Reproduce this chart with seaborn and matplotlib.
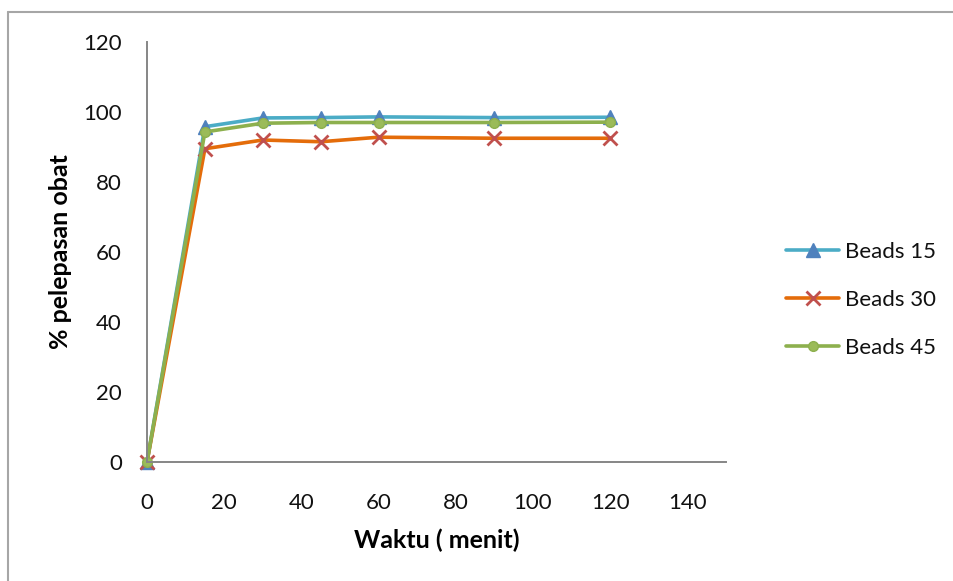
import matplotlib
matplotlib.use("Agg")
import matplotlib.pyplot as plt
from matplotlib.lines import Line2D
import seaborn as sns
import pandas as pd

# Drug release profile of beads over time
waktu = [0, 15, 30, 45, 60, 90, 120]
beads_15 = [0, 95.8, 98.3, 98.4, 98.6, 98.4, 98.5]
beads_30 = [0, 89.5, 92.0, 91.5, 92.8, 92.5, 92.5]
beads_45 = [0, 94.3, 96.8, 97.0, 97.0, 97.0, 97.1]
series_names = ["Beads 15", "Beads 30", "Beads 45"]
x_ticks = [0, 20, 40, 60, 80, 100, 120, 140]
y_ticks = [0, 20, 40, 60, 80, 100, 120]

df = pd.DataFrame({
    "Waktu": waktu * 3,
    "Rilis": beads_15 + beads_30 + beads_45,
    "Seri": [n for n in series_names for _ in waktu],
})

sns.set_theme(style="white")
plt.rcParams["font.family"] = ["Lato", "DejaVu Sans"]

line_colors = {"Beads 15": "#4BACC6", "Beads 30": "#E46C0A", "Beads 45": "#8DB04E"}
marker_styles = {
    "Beads 15": dict(marker="^", markersize=10, mfc="#4F81BD", mec="#4F81BD", mew=1),
    "Beads 30": dict(marker="x", markersize=10, mfc="#C0504D", mec="#C0504D", mew=2),
    "Beads 45": dict(marker="o", markersize=7, mfc="#9BBB59", mec="#8DB04E", mew=1),
}

fig = plt.figure(figsize=(9.54, 5.81), dpi=100)
ax = fig.add_axes([147 / 954, 1 - 462 / 581, (726 - 147) / 954, 420 / 581])

for name in series_names:
    sub = df[df["Seri"] == name]
    sns.lineplot(data=sub, x="Waktu", y="Rilis", ax=ax, color=line_colors[name],
                 linewidth=2.6, legend=False, errorbar=None)
    ln = ax.lines[-1]
    st = marker_styles[name]
    ln.set_marker(st["marker"])
    ln.set_markersize(st["markersize"])
    ln.set_markerfacecolor(st["mfc"])
    ln.set_markeredgecolor(st["mec"])
    ln.set_markeredgewidth(st["mew"])
    ln.set_clip_on(False)

ax.set_xlim(0, 150)
ax.set_ylim(0, 120)
ax.set_xticks(x_ticks)
ax.set_yticks(y_ticks)
ax.tick_params(axis="both", length=0, labelsize=16, colors="#111111")
ax.tick_params(axis="y", pad=18)
ax.tick_params(axis="x", pad=22)

for side in ["top", "right"]:
    ax.spines[side].set_visible(False)
for side in ["left", "bottom"]:
    ax.spines[side].set_color("#868686")
    ax.spines[side].set_linewidth(1.4)
ax.set_facecolor("none")

ax.set_xlabel("Waktu ( menit)", fontsize=18, fontweight="bold", color="#000000")
ax.set_ylabel("% pelepasan obat", fontsize=18, fontweight="bold", color="#000000")
ax.xaxis.set_label_coords(0.5, (462 - 529) / 420)
ax.yaxis.set_label_coords((72 - 147) / 579, 0.5)

handles = []
for name in series_names:
    st = marker_styles[name]
    handles.append(Line2D([], [], color=line_colors[name], linewidth=2.6,
                          marker=st["marker"], markersize=st["markersize"],
                          markerfacecolor=st["mfc"], markeredgecolor=st["mec"],
                          markeredgewidth=st["mew"]))
leg = ax.legend(handles, series_names, loc="center left",
                bbox_to_anchor=((786 - 147) / 579, (462 - 300) / 420),
                frameon=False, fontsize=16, handlelength=2.4, handletextpad=0.27,
                labelspacing=1.25, borderpad=0, borderaxespad=0)
for t in leg.get_texts():
    t.set_color("#111111")

# Chart frame (top and left edges)
fig.add_artist(Line2D([8 / 954, 8 / 954], [0, 1 - 12 / 581], transform=fig.transFigure,
                      color="#A6A6A6", linewidth=1.5))
fig.add_artist(Line2D([8 / 954, 1], [1 - 12 / 581, 1 - 12 / 581], transform=fig.transFigure,
                      color="#A6A6A6", linewidth=1.5))

fig.savefig("out.png", dpi=100)
